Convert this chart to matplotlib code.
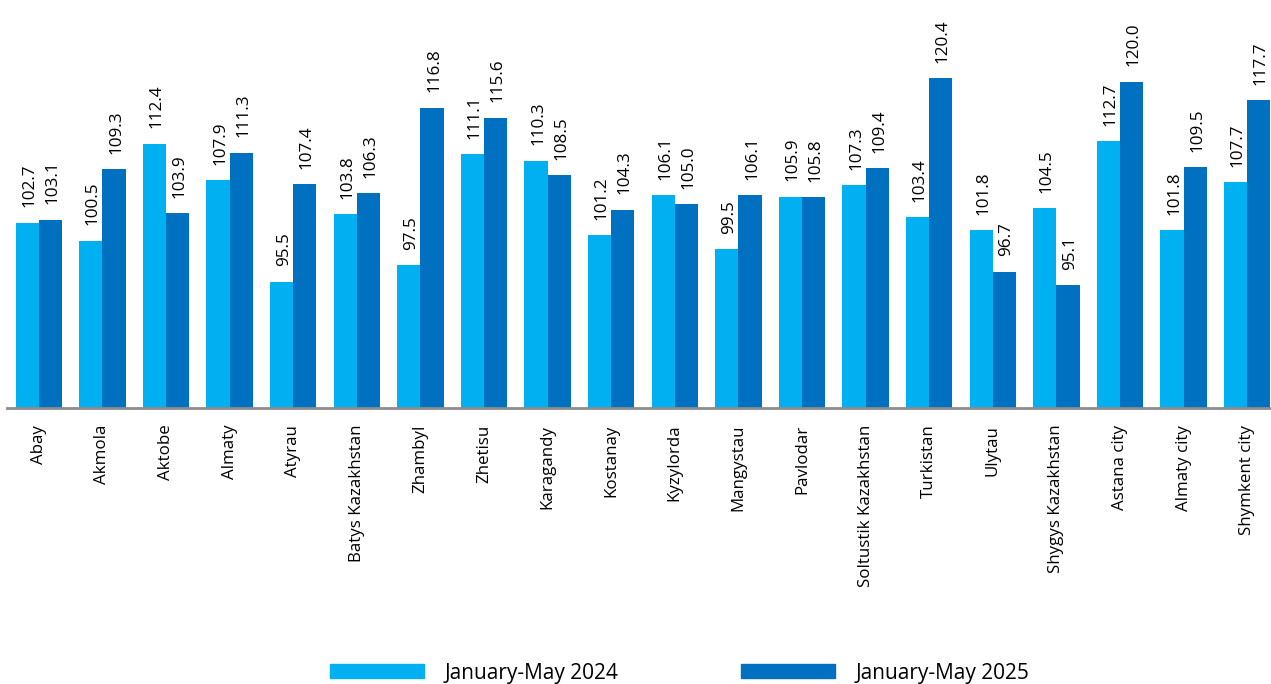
import numpy as np
import matplotlib
matplotlib.use('Agg')
import matplotlib.pyplot as plt
from matplotlib.patches import Patch

# Regions and index values (same period of previous year = 100)
regions = ['Abay', 'Akmola', 'Aktobe', 'Almaty', 'Atyrau', 'Batys Kazakhstan', 'Zhambyl',
           'Zhetisu', 'Karagandy', 'Kostanay', 'Kyzylorda', 'Mangystau', 'Pavlodar',
           'Soltustik Kazakhstan', 'Turkistan', 'Ulytau', 'Shygys Kazakhstan',
           'Astana city', 'Almaty city', 'Shymkent city']
vals_2024 = [102.7, 100.5, 112.4, 107.9, 95.5, 103.8, 97.5, 111.1, 110.3, 101.2,
             106.1, 99.5, 105.9, 107.3, 103.4, 101.8, 104.5, 112.7, 101.8, 107.7]
vals_2025 = [103.1, 109.3, 103.9, 111.3, 107.4, 106.3, 116.8, 115.6, 108.5, 104.3,
             105.0, 106.1, 105.8, 109.4, 120.4, 96.7, 95.1, 120.0, 109.5, 117.7]
series_names = ['January-May 2024', 'January-May 2025']

plt.rcParams['font.family'] = ['Open Sans', 'DejaVu Sans']

c_light = '#00B0F0'
c_dark = '#0070C0'

fig = plt.figure(figsize=(12.71, 6.84), dpi=100)
ax = fig.add_axes([7 / 1271, 276 / 684, 1272 / 1271, 408 / 684])

x = np.arange(len(regions))
w = 0.365
b1 = ax.bar(x - w / 2, np.array(vals_2024) - 80, w, bottom=80, color=c_light)
b2 = ax.bar(x + w / 2, np.array(vals_2025) - 80, w, bottom=80, color=c_dark)

# value labels, rotated, a little above each bar
for bars, vals in [(b1, vals_2024), (b2, vals_2025)]:
    for r, v in zip(bars, vals):
        ax.annotate(f'{v:.1f}', (r.get_x() + r.get_width() / 2, v),
                    xytext=(1.5, 11), textcoords='offset points', rotation=90,
                    ha='center', va='bottom', fontsize=12.3, color='black',
                    annotation_clip=False)

ax.set_ylim(80, 130)
ax.set_xlim(-0.5, 19.5)
ax.set_yticks([])
ax.set_xticks(x)
ax.set_xticklabels(regions, rotation=90, fontsize=12.2)
ax.tick_params(axis='x', length=0, pad=12)
for s in ['top', 'right', 'left']:
    ax.spines[s].set_visible(False)
ax.spines['bottom'].set_color('#8c8c8c')
ax.spines['bottom'].set_linewidth(2)

handles = [Patch(color=c_light), Patch(color=c_dark)]
fig.legend(handles, series_names, loc='center left', bbox_to_anchor=(330 / 1271, 11 / 684),
           ncol=2, frameon=False, fontsize=15, handlelength=4.5, handleheight=0.65,
           handletextpad=1.0, columnspacing=5.9, borderpad=0, borderaxespad=0)

fig.savefig('out.png', dpi=100)
